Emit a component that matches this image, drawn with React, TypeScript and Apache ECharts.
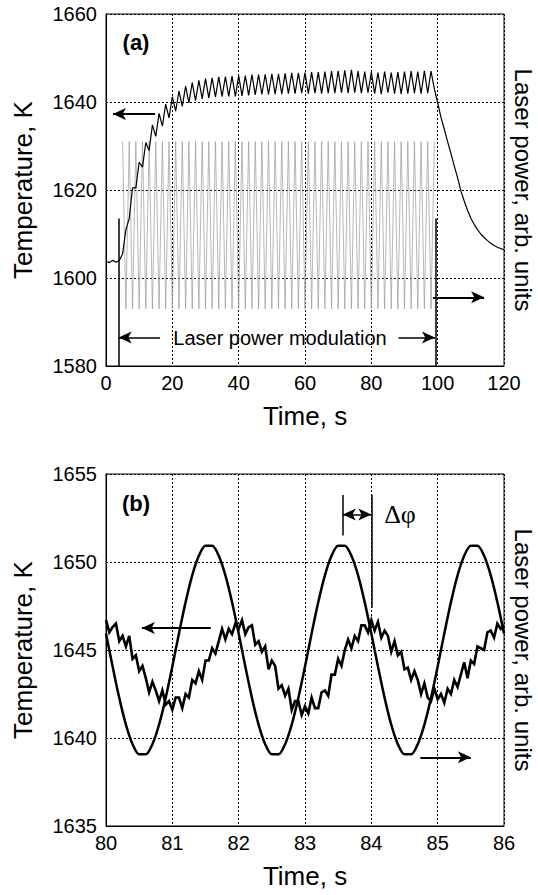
import React, { useEffect, useRef } from "react";
import * as echarts from "echarts";

// ---------- Panel (a) data ----------
const timeAStart = 0;
const timeAStep = 1;
const tempA = [
  1603.8, 1603.5, 1604.0, 1603.6, 1603.9,
  1605.5, 1611.0, 1613.5, 1620.5, 1620.5,
  1626.3, 1625.2, 1630.8, 1629.0, 1634.8,
  1632.2, 1637.4, 1634.5, 1639.5, 1636.4,
  1641.2, 1637.9, 1642.5, 1639.0, 1643.6,
  1639.8, 1644.4, 1640.3, 1644.9, 1640.7,
  1645.3, 1640.9, 1645.5, 1641.1, 1645.7,
  1641.2, 1645.8, 1641.3, 1645.9, 1641.3,
  1646.0, 1641.4, 1646.0, 1641.5, 1646.2,
  1641.6, 1646.2, 1641.7, 1646.3, 1641.7,
  1646.4, 1641.8, 1646.4, 1641.8, 1646.5,
  1641.9, 1646.6, 1641.9, 1646.6, 1642.0,
  1646.7, 1641.9, 1646.8, 1642.0, 1646.8,
  1641.9, 1646.9, 1642.0, 1647.0, 1642.0,
  1647.1, 1642.1, 1647.2, 1642.0, 1647.3,
  1642.1, 1647.0, 1642.0, 1646.9, 1642.1,
  1646.8, 1641.9, 1646.7, 1641.8, 1646.9,
  1642.1, 1646.7, 1641.9, 1646.8, 1641.8,
  1646.9, 1641.9, 1647.0, 1642.0, 1646.9,
  1641.9, 1647.1, 1642.0, 1647.0, 1643.0,
  1639.8, 1636.5, 1633.8, 1631.0, 1628.3,
  1625.5, 1622.8, 1619.8, 1617.5, 1615.4,
  1613.6, 1612.2, 1611.0, 1610.0, 1609.2,
  1608.5, 1607.9, 1607.4, 1607.0, 1606.7,
  1606.4,
];

const laserAStart = 5;
const laserAStep = 1;
const laserA = [
  1631, 1593, 1631, 1593, 1631, 1593, 1631, 1593, 1631, 1593,
  1631, 1593, 1631, 1593, 1631, 1593, 1631, 1593, 1631, 1593,
  1631, 1593, 1631, 1593, 1631, 1593, 1631, 1593, 1631, 1593,
  1631, 1593, 1631, 1593, 1631, 1593, 1631, 1593, 1631, 1593,
  1631, 1593, 1631, 1593, 1631, 1593, 1631, 1593, 1631, 1593,
  1631, 1593, 1631, 1593, 1631, 1593, 1631, 1593, 1631, 1593,
  1631, 1593, 1631, 1593, 1631, 1593, 1631, 1593, 1631, 1593,
  1631, 1593, 1631, 1593, 1631, 1593, 1631, 1593, 1631, 1593,
  1631, 1593, 1631, 1593, 1631, 1593, 1631, 1593, 1631, 1593,
  1631, 1593, 1631, 1593, 1631,
];

// ---------- Panel (b) data ----------
const timeBStart = 80;
const tempBStep = 0.05;
const tempB = [
  1646.7, 1646.0, 1646.3, 1646.5, 1645.5, 1645.8, 1645.2, 1645.8, 1644.5, 1644.7,
  1643.8, 1644.1, 1643.4, 1642.6, 1643.2, 1642.7, 1642.1, 1642.7, 1641.9, 1642.1,
  1641.6, 1642.3, 1642.3, 1641.7, 1642.5, 1642.3, 1643.3, 1643.1, 1643.8, 1643.3,
  1644.4, 1644.4, 1645.1, 1644.8, 1645.5, 1646.2, 1645.6, 1646.2, 1645.9, 1646.5,
  1646.2, 1646.7, 1645.9, 1646.3, 1646.4, 1645.3, 1645.5, 1644.9, 1645.2, 1643.9,
  1644.4, 1644.1, 1642.8, 1643.0, 1642.4, 1642.8, 1641.6, 1642.1, 1642.1, 1641.3,
  1641.8, 1641.4, 1642.3, 1641.7, 1641.7, 1642.6, 1642.7, 1642.4, 1643.6, 1643.6,
  1644.5, 1644.1, 1645.0, 1645.6, 1645.1, 1645.8, 1645.5, 1646.4, 1646.4, 1646.0,
  1646.7, 1646.1, 1646.6, 1645.7, 1646.1, 1645.8, 1644.9, 1645.5, 1644.7, 1644.9,
  1643.9, 1644.0, 1643.3, 1643.8, 1643.3, 1642.5, 1643.1, 1642.3, 1642.1, 1642.8,
  1642.2, 1642.5, 1642.0, 1642.8, 1642.5, 1643.3, 1642.9, 1643.6, 1644.3, 1643.4,
  1644.4, 1644.2, 1645.2, 1645.1, 1645.0, 1646.0, 1646.1, 1645.7, 1646.5, 1646.2,
  1646.4,
];

const laserBStep = 0.1;
const laserB = [
  1645.94, 1644.06, 1642.28, 1640.76, 1639.65, 1639.07, 1639.07, 1639.65, 1640.76, 1642.28,
  1644.06, 1645.94, 1647.72, 1649.24, 1650.35, 1650.93, 1650.93, 1650.35, 1649.24, 1647.72,
  1645.94, 1644.06, 1642.28, 1640.76, 1639.65, 1639.07, 1639.07, 1639.65, 1640.76, 1642.28,
  1644.06, 1645.94, 1647.72, 1649.24, 1650.35, 1650.93, 1650.93, 1650.35, 1649.24, 1647.72,
  1645.94, 1644.06, 1642.28, 1640.76, 1639.65, 1639.07, 1639.07, 1639.65, 1640.76, 1642.28,
  1644.06, 1645.94, 1647.72, 1649.24, 1650.35, 1650.93, 1650.93, 1650.35, 1649.24, 1647.72,
  1645.94,
];

const xTicksA = { min: 0, max: 120, interval: 20 };
const yTicksA = { min: 1580, max: 1660, interval: 20 };
const xTicksB = { min: 80, max: 86, interval: 1 };
const yTicksB = { min: 1635, max: 1655, interval: 5 };

const FONT = "'Liberation Sans', Arial, Helvetica, sans-serif";

const toPairs = (start: number, step: number, vals: number[]) =>
  vals.map((v, i) => [+(start + i * step).toFixed(3), v]);

const seg = (a: number[], b: number[], startSym: string, endSym: string, width: number) => [
  { coord: a, symbol: startSym, symbolSize: [9, 13] },
  { coord: b, symbol: endSym, symbolSize: [9, 13], lineStyle: { width, color: "#000", type: "solid" } },
];

const plain = (v: number) => String(v);

function axisX(gridIndex: number, t: any) {
  return {
    type: "value",
    gridIndex,
    ...t,
    name: "Time, s",
    nameLocation: "middle",
    nameGap: 37,
    nameTextStyle: { fontSize: 26, color: "#000", fontFamily: FONT },
    axisLine: { show: true, onZero: false, lineStyle: { color: "#000", width: 1 } },
    axisTick: { show: false },
    axisLabel: { fontSize: 20, color: "#000", fontFamily: FONT, margin: 7, formatter: plain },
    splitLine: { show: true, lineStyle: { color: "#000", width: 1, type: [2, 2] } },
  };
}
function axisY(gridIndex: number, t: any) {
  return {
    type: "value",
    gridIndex,
    ...t,
    name: "Temperature, K",
    nameLocation: "middle",
    nameRotate: 90,
    nameGap: 70,
    nameTextStyle: { fontSize: 26, color: "#000", fontFamily: FONT },
    axisLine: { show: true, onZero: false, lineStyle: { color: "#000", width: 1 } },
    axisTick: { show: false },
    axisLabel: { fontSize: 20, color: "#000", fontFamily: FONT, margin: 9, formatter: plain },
    splitLine: { show: true, lineStyle: { color: "#000", width: 1, type: [2, 2] } },
  };
}

const rightLabel = (y: number) => ({
  type: "text",
  x: 523,
  y,
  rotation: -Math.PI / 2,
  style: {
    text: "Laser power, arb. units",
    fontSize: 24,
    fontFamily: FONT,
    fill: "#000",
    align: "center",
    verticalAlign: "middle",
  },
});

const option: any = {
  animation: false,
  backgroundColor: "#fff",
  grid: [
    { left: 106, top: 14, width: 398, height: 352, show: true, borderColor: "#000", borderWidth: 1 },
    { left: 106, top: 474, width: 398, height: 352, show: true, borderColor: "#000", borderWidth: 1 },
  ],
  xAxis: [axisX(0, xTicksA), axisX(1, xTicksB)],
  yAxis: [axisY(0, yTicksA), axisY(1, yTicksB)],
  series: [
    {
      type: "line",
      xAxisIndex: 0,
      yAxisIndex: 0,
      data: toPairs(laserAStart, laserAStep, laserA),
      showSymbol: false,
      symbol: "none",
      lineStyle: { color: "#9a9a9a", width: 0.7 },
      silent: true,
    },
    {
      type: "line",
      xAxisIndex: 0,
      yAxisIndex: 0,
      data: toPairs(timeAStart, timeAStep, tempA),
      showSymbol: false,
      symbol: "none",
      lineStyle: { color: "#000", width: 1.2 },
      silent: true,
      markLine: {
        silent: true,
        animation: false,
        label: { show: false },
        lineStyle: { color: "#000", type: "solid", width: 1.5 },
        data: [
          seg([3.7, 1580], [3.7, 1613.5], "none", "none", 1.5),
          seg([99.3, 1580], [99.3, 1613.5], "none", "none", 1.5),
          seg([14.8, 1637.3], [2.1, 1637.3], "none", "arrow", 2),
          seg([98.6, 1595.6], [114, 1595.6], "none", "arrow", 2),
          seg([16.3, 1586.5], [3.8, 1586.5], "none", "arrow", 1.5),
          seg([88.2, 1586.5], [99.2, 1586.5], "none", "arrow", 1.5),
        ],
      },
    },
    {
      type: "line",
      xAxisIndex: 1,
      yAxisIndex: 1,
      data: toPairs(timeBStart, laserBStep, laserB),
      showSymbol: false,
      symbol: "none",
      smooth: 0.3,
      lineStyle: { color: "#000", width: 2.5 },
      silent: true,
    },
    {
      type: "line",
      xAxisIndex: 1,
      yAxisIndex: 1,
      data: toPairs(timeBStart, tempBStep, tempB),
      showSymbol: false,
      symbol: "none",
      lineStyle: { color: "#000", width: 2.6, join: "miter" },
      silent: true,
      markLine: {
        silent: true,
        animation: false,
        label: { show: false },
        lineStyle: { color: "#000", type: "solid", width: 1.5 },
        data: [
          seg([83.57, 1653.8], [83.57, 1651.5], "none", "none", 1.5),
          seg([84.0, 1653.8], [84.0, 1647.4], "none", "none", 1.5),
          seg([83.57, 1652.7], [84.0, 1652.7], "arrow", "arrow", 1.5),
          seg([81.58, 1646.25], [80.54, 1646.25], "none", "arrow", 2),
          seg([84.74, 1638.9], [85.5, 1638.9], "none", "arrow", 2),
        ],
      },
    },
  ],
  graphic: [
    {
      type: "text",
      x: 136,
      y: 42,
      style: { text: "(a)", fontSize: 22, fontWeight: "bold", fontFamily: FONT, fill: "#000", align: "center", verticalAlign: "middle" },
    },
    {
      type: "text",
      x: 136,
      y: 503,
      style: { text: "(b)", fontSize: 22, fontWeight: "bold", fontFamily: FONT, fill: "#000", align: "center", verticalAlign: "middle" },
    },
    {
      type: "text",
      x: 280,
      y: 338,
      style: { text: "Laser power modulation", fontSize: 20, fontFamily: FONT, fill: "#000", align: "center", verticalAlign: "middle" },
    },
    {
      type: "text",
      x: 400,
      y: 514,
      style: { text: "Δφ", fontSize: 26, fontFamily: "'Liberation Serif', 'Times New Roman', serif", fill: "#000", align: "center", verticalAlign: "middle" },
    },
    rightLabel(190),
    rightLabel(650),
  ],
};

export default function App() {
  const ref = useRef<HTMLDivElement>(null);
  useEffect(() => {
    const chart = echarts.init(ref.current as HTMLDivElement, null, { renderer: "svg" });
    chart.setOption(option);
    return () => chart.dispose();
  }, []);
  return (
    <div
      ref={ref}
      style={{ position: "fixed", left: 0, top: 0, width: 538, height: 895, background: "#fff" }}
    />
  );
}
